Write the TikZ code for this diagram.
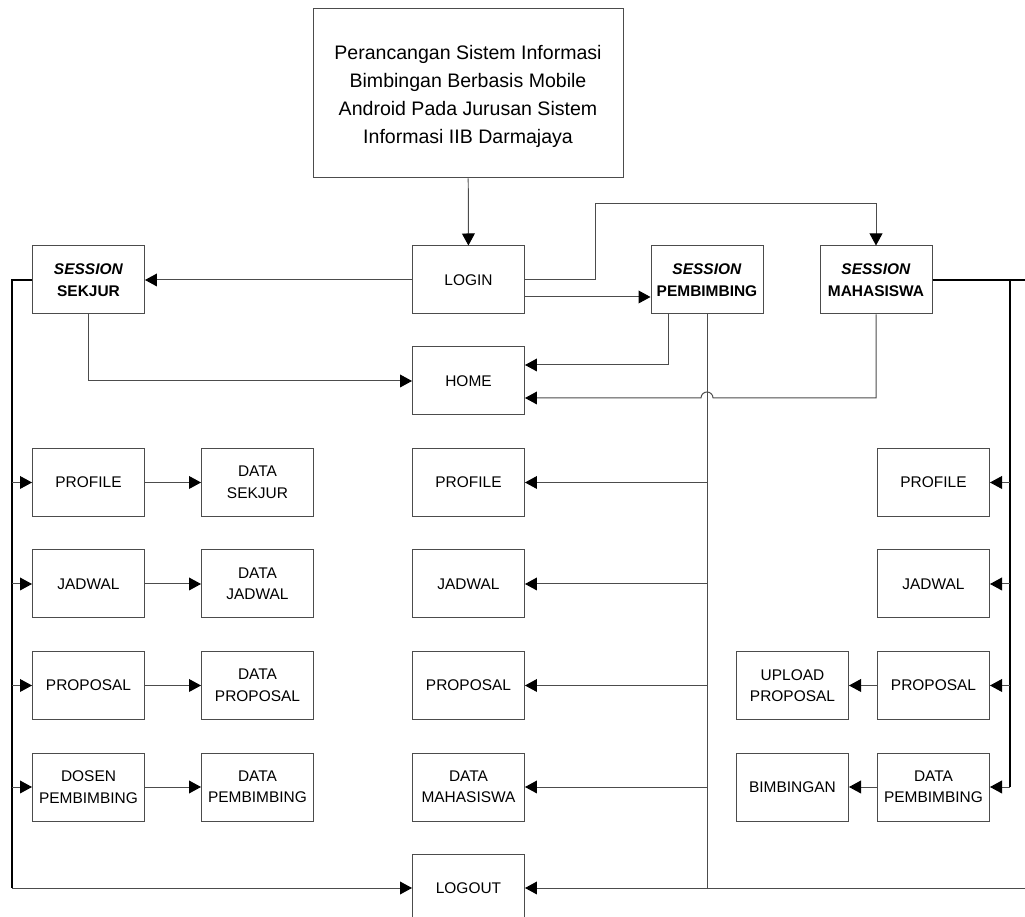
\documentclass[tikz,border=0pt]{standalone}
\usepackage{fontspec}
\setmainfont{Liberation Sans}
\usetikzlibrary{arrows.meta}

\begin{document}
\begin{tikzpicture}[
        box/.style={draw=black!70, line width=0.7pt, minimum width=2.8cm, minimum height=1.7cm, align=center, inner sep=1pt, font=\fontsize{11}{15.3}\selectfont},
        line/.style={draw=black!70, line width=0.7pt},
        bus/.style={draw=black, line width=1.3pt},
        arr/.style={-{Triangle[length=0.3cm,width=0.32cm,color=black]}}
    ]
        \useasboundingbox (0,0) rectangle (25.625,22.925);

        % Title and login
        \node[box, minimum width=7.75cm, minimum height=4.225cm, font=\fontsize{13.9}{19.9}\selectfont] (title) at (11.7,20.59) {\\[-0.2cm]Perancangan Sistem Informasi\\Bimbingan Berbasis Mobile\\Android Pada Jurusan Sistem\\Informasi IIB Darmajaya};
        \node[box] (login) at (11.7125,15.925) {LOGIN};
        \node[box] (home) at (11.7125,13.4) {HOME};
        \node[box] (logout) at (11.7125,0.725) {LOGOUT};
        \draw[line,arr] (title) -- (login);

        % Sessions
        \def\y{15.925}
        \node[box] (sekjur) at (2.2125,\y) {\textbf{\textit{SESSION}}\\\textbf{SEKJUR}};
        \node[box] (pemb) at (17.675,\y) {\textbf{\textit{SESSION}}\\\textbf{PEMBIMBING}};
        \node[box] (mhs) at (21.9,\y) {\textbf{\textit{SESSION}}\\\textbf{MAHASISWA}};
        \draw[line,arr] (login) -- (sekjur);
        \draw[line,arr] ([yshift=-0.425cm]login.east) -- ([yshift=-0.425cm]pemb.west);
        \draw[line,arr] (login.east) -| (14.875,17.825) -| (mhs.north);

        % Into home
        \draw[line,arr] (sekjur.south) |- (home.west);
        \draw[line,arr] ([xshift=-0.975cm]pemb.south) |- ([yshift=0.4cm]home.east);
        \draw[line,arr] (mhs.south) -- (21.9,12.975) -- (17.825,12.975) arc[start angle=0, end angle=180, radius=0.15] -- ([yshift=-0.425cm]home.east);

        % Sekjur column
        \def\x{2.2125}
        \node[box] (p1) at (\x,10.8625) {PROFILE};
        \node[box] (j1) at (\x,8.325) {JADWAL};
        \node[box] (pr1) at (\x,5.7875) {PROPOSAL};
        \node[box] (d1) at (\x,3.25) {DOSEN\\PEMBIMBING};
        \def\x{6.4375}
        \node[box] (p1x) at (\x,10.8625) {DATA\\SEKJUR};
        \node[box] (j1x) at (\x,8.325) {DATA\\JADWAL};
        \node[box] (pr1x) at (\x,5.7875) {DATA\\PROPOSAL};
        \node[box] (d1x) at (\x,3.25) {DATA\\PEMBIMBING};
        \draw[line,arr] (p1) -- (p1x);
        \draw[line,arr] (j1) -- (j1x);
        \draw[line,arr] (pr1) -- (pr1x);
        \draw[line,arr] (d1) -- (d1x);

        \coordinate (lb) at (0.3,0.725);
        \draw[bus] (sekjur.west) -| (lb);
        \draw[line,arr] (lb) -- (logout.west);
        \draw[line,arr] (p1.west -| lb) -- (p1.west);
        \draw[line,arr] (j1.west -| lb) -- (j1.west);
        \draw[line,arr] (pr1.west -| lb) -- (pr1.west);
        \draw[line,arr] (d1.west -| lb) -- (d1.west);

        % Pembimbing column
        \def\x{11.7125}
        \node[box] (p2) at (\x,10.8625) {PROFILE};
        \node[box] (j2) at (\x,8.325) {JADWAL};
        \node[box] (pr2) at (\x,5.7875) {PROPOSAL};
        \node[box] (m2) at (\x,3.25) {DATA\\MAHASISWA};
        \draw[line] (pemb.south) -- (pemb.south |- logout.east);
        \draw[line,arr] (p2.east -| pemb.south) -- (p2.east);
        \draw[line,arr] (j2.east -| pemb.south) -- (j2.east);
        \draw[line,arr] (pr2.east -| pemb.south) -- (pr2.east);
        \draw[line,arr] (m2.east -| pemb.south) -- (m2.east);

        % Mahasiswa column
        \def\x{23.3375}
        \node[box] (p3) at (\x,10.8625) {PROFILE};
        \node[box] (j3) at (\x,8.325) {JADWAL};
        \node[box] (pr3) at (\x,5.7875) {PROPOSAL};
        \node[box] (d3) at (\x,3.25) {DATA\\PEMBIMBING};
        \def\x{19.8125}
        \node[box] (pr3x) at (\x,5.7875) {UPLOAD\\PROPOSAL};
        \node[box] (d3x) at (\x,3.25) {BIMBINGAN};
        \draw[line,arr] (pr3) -- (pr3x);
        \draw[line,arr] (d3) -- (d3x);

        \coordinate (re) at (25.625,\y);
        \coordinate (rb) at (25.25,\y);
        \draw[bus] (mhs.east) -- (re);
        \draw[bus] (rb) -- (rb |- d3.east);
        \draw[line,arr] (p3.east -| rb) -- (p3.east);
        \draw[line,arr] (j3.east -| rb) -- (j3.east);
        \draw[line,arr] (pr3.east -| rb) -- (pr3.east);
        \draw[line,arr] (d3.east -| rb) -- (d3.east);

        % Logout from the right
        \coordinate (le) at (25.625,0.725);
        \draw[line,arr] (le) -- (logout.east);
    \end{tikzpicture}
\end{document}
